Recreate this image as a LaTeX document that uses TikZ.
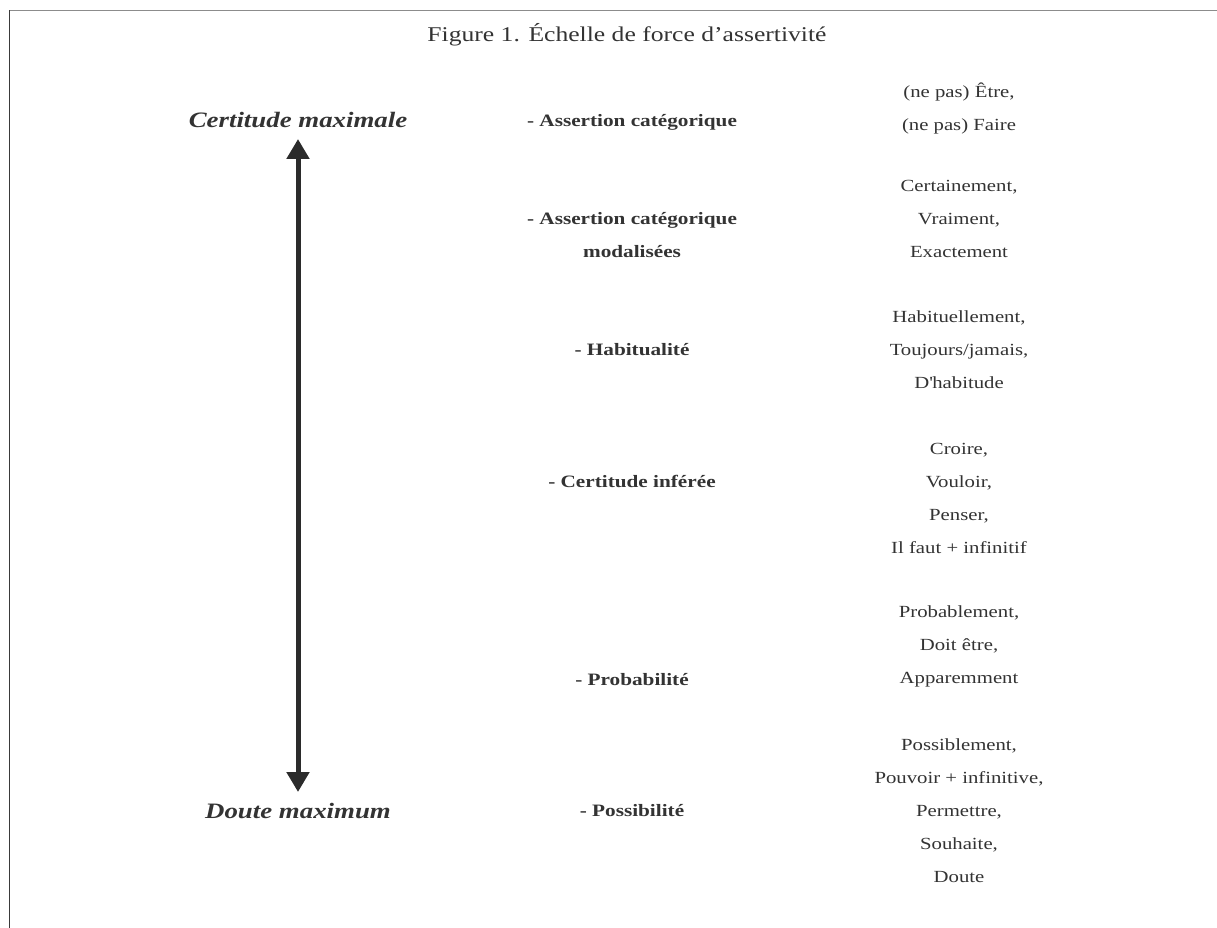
\documentclass[tikz,border=0pt]{standalone}
\usepackage{fontspec}
\setmainfont{Liberation Serif}[FakeStretch=1.22]
\usetikzlibrary{arrows.meta}
\definecolor{txt}{HTML}{333333}
\definecolor{arrowc}{HTML}{2B2B2B}
\definecolor{framegray}{HTML}{8C8C8C}
\definecolor{framedark}{HTML}{3A3A3A}
\tikzset{
  lbl/.style={text=txt, inner sep=0pt, align=center},
  titlef/.style={lbl, font=\fontsize{21}{24}\selectfont},
  sidef/.style={lbl, font=\fontsize{22}{26}\selectfont\bfseries\itshape},
  midf/.style={lbl, font=\fontsize{17.4}{33}\selectfont\bfseries},
  rightf/.style={lbl, font=\fontsize{17}{33}\selectfont},
  scalearrow/.style={draw=arrowc, line width=5pt,
    {Triangle[width=22pt,length=20pt]}-{Triangle[width=22pt,length=20pt]}},
}
\begin{document}
\begin{tikzpicture}[x=1pt,y=-1pt]
\useasboundingbox (0,0) rectangle (1217,928);
\fill[white] (0,0) rectangle (1217,928);
\coordinate (ftl) at (9.5,10.5);
\coordinate (ftr) at (1217,10.5);
\coordinate (fbl) at (9.5,928);
\draw[framegray, line width=1.5pt] (ftl) -- (ftr);
\draw[framedark, line width=1.5pt] (ftl) -- (fbl);

\node[titlef] (title) at (627,35) {Figure 1. Échelle de force d’assertivité};

\node[sidef] (cmax) at (298,120) {Certitude maximale};
\node[sidef] (dmax) at (298,811) {Doute maximum};
\coordinate (atop) at (298,139);
\coordinate (abot) at (298,792);
\draw[scalearrow] (abot) -- (atop);

\node[midf] (m1) at (632,122) {- Assertion catégorique};
\node[midf] (m2) at (632,235.5) {- Assertion catégorique\\modalisées};
\node[midf] (m3) at (632,350) {- Habitualité};
\node[midf] (m4) at (632,481) {- Certitude inférée};
\node[midf] (m5) at (632,680) {- Probabilité};
\node[midf] (m6) at (632,811) {- Possibilité};

\node[rightf] (r1) at (959,109) {(ne pas) Être,\\(ne pas) Faire};
\node[rightf] (r2) at (959,219) {Certainement,\\Vraiment,\\Exactement};
\node[rightf] (r3) at (959,350) {Habituellement,\\Toujours/jamais,\\D\textquotesingle habitude};
\node[rightf] (r4) at (959,498) {Croire,\\Vouloir,\\Penser,\\Il faut + infinitif};
\node[rightf] (r5) at (959,646.5) {Probablement,\\Doit être,\\Apparemment};
\node[rightf] (r6) at (959,811) {Possiblement,\\Pouvoir + infinitive,\\Permettre,\\Souhaite,\\Doute};
\end{tikzpicture}
\end{document}
